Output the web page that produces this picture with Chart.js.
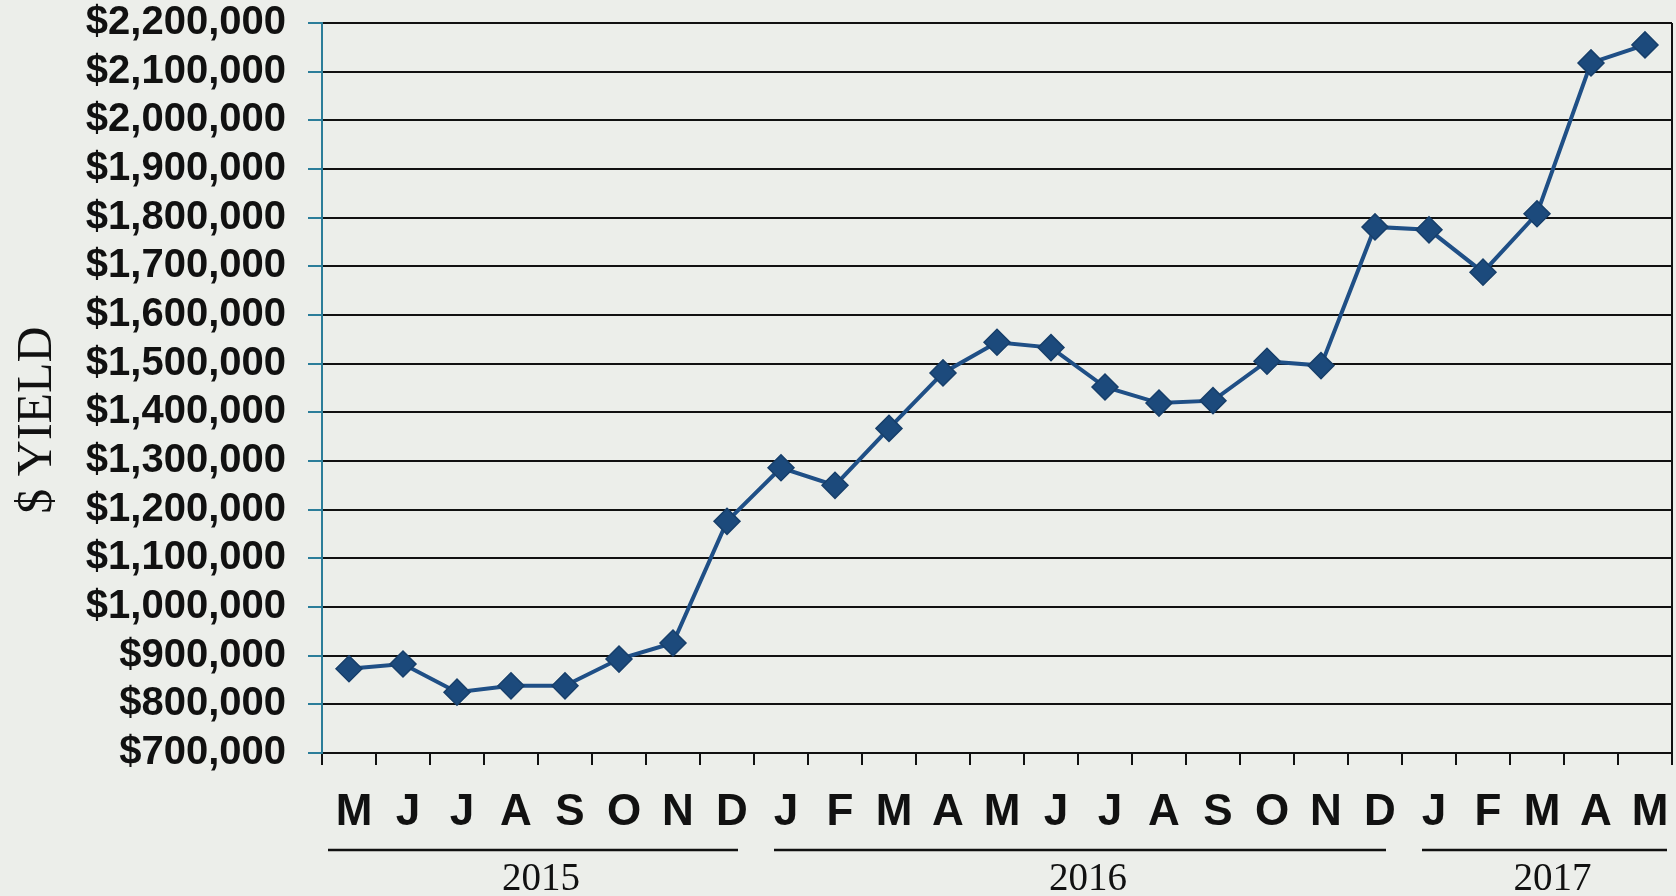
<!DOCTYPE html>
<html>
<head>
<meta charset="utf-8">
<title>$ Yield</title>
<script src="https://cdn.jsdelivr.net/npm/chart.js@4.4.1/dist/chart.umd.min.js"></script>
<style>
  html, body { margin: 0; padding: 0; background: #eceeea; overflow: hidden; }
  canvas { display: block; }
</style>
</head>
<body>
<canvas id="chart" width="1676" height="896"></canvas>
<script>
// month initials, May 2015 .. May 2017
const months = ['M','J','J','A','S','O','N','D','J','F','M','A','M','J','J','A','S','O','N','D','J','F','M','A','M'];
const yieldValues = [873000, 883000, 825000, 838000, 838000, 893000, 926000, 1176000,
  1286000, 1250000, 1367000, 1481000, 1544000, 1533000, 1452000, 1419000, 1424000, 1505000, 1496000, 1781000,
  1775000, 1688000, 1808000, 2118000, 2155000];
// year groups: label, first month index, last month index
const years = ['2015', '2016', '2017'];
const yearStart = [0, 8, 20];
const yearEnd = [7, 19, 24];
const yMin = 700000, yMax = 2200000, yStep = 100000;

const axisTeal = '#2b7d99';
const lineBlue = '#1f4f86';

const paper = {
  id: 'paper',
  beforeDraw(chart) {
    const ctx = chart.ctx;
    ctx.save();
    ctx.fillStyle = '#eceeea';
    ctx.fillRect(0, 0, chart.width, chart.height);
    ctx.restore();
  }
};

const extras = {
  id: 'extras',
  afterDraw(chart) {
    const ctx = chart.ctx, x = chart.scales.x, area = chart.chartArea;
    const half = (x.getPixelForValue(1) - x.getPixelForValue(0)) / 2;
    ctx.save();
    // right border
    ctx.strokeStyle = '#111';
    ctx.lineWidth = 2;
    ctx.beginPath();
    ctx.moveTo(area.right, area.top);
    ctx.lineTo(area.right, area.bottom + 12);
    ctx.stroke();
    // year underlines and labels
    ctx.font = '39px "Liberation Serif", "Times New Roman", serif';
    ctx.fillStyle = '#111';
    ctx.textAlign = 'center';
    ctx.textBaseline = 'middle';
    years.forEach((yr, i) => {
      const x0 = x.getPixelForValue(yearStart[i]) - half + (i ? 20 : 6);
      const x1 = x.getPixelForValue(yearEnd[i]) + half - (i === 2 ? 5 : 16);
      ctx.lineWidth = 2.5;
      ctx.beginPath();
      ctx.moveTo(x0, 850);
      ctx.lineTo(x1, 850);
      ctx.stroke();
      ctx.fillText(yr, (x0 + x1) / 2 + 8, 880);
    });
    // y axis title
    ctx.translate(38, 420);
    ctx.rotate(-Math.PI / 2);
    ctx.font = '50px "Liberation Serif", "Times New Roman", serif';
    ctx.fillText('$ YIELD', 0, 0);
    ctx.restore();
  }
};

new Chart(document.getElementById('chart'), {
  type: 'line',
  data: {
    labels: months,
    datasets: [{
      label: '$ Yield',
      data: yieldValues,
      borderColor: lineBlue,
      borderWidth: 4,
      tension: 0,
      pointStyle: 'rectRot',
      pointRadius: 13,
      pointBorderWidth: 1.5,
      pointBackgroundColor: '#1c4a7c',
      pointBorderColor: '#173f6b'
    }]
  },
  plugins: [paper, extras],
  options: {
    responsive: false,
    animation: false,
    devicePixelRatio: 1,
    layout: { autoPadding: false, padding: { top: 0, right: 4, bottom: 0, left: 0 } },
    plugins: { legend: { display: false }, tooltip: { enabled: false } },
    scales: {
      x: {
        type: 'category',
        offset: true,
        afterFit(scale) { scale.height = 143; },
        grid: { offset: true, drawOnChartArea: false, drawTicks: true, tickLength: 12, tickColor: '#111', lineWidth: 2 },
        border: { display: true, color: '#111', width: 2 },
        ticks: {
          color: '#111',
          padding: 0,
          labelOffset: 5,
          maxRotation: 0,
          autoSkip: false,
          font: { family: '"Liberation Sans", Arial, sans-serif', size: 44, weight: 'bold', lineHeight: 2.18 }
        }
      },
      y: {
        min: yMin,
        max: yMax,
        afterFit(scale) { scale.width = 322; scale.paddingTop = 23; scale.paddingBottom = 0; },
        grid: { color: '#111', lineWidth: 2, tickLength: 14, tickColor: axisTeal },
        border: { display: true, color: axisTeal, width: 2 },
        ticks: {
          stepSize: yStep,
          autoSkip: false,
          color: '#111',
          padding: 22,
          font: { family: '"Liberation Sans", Arial, sans-serif', size: 40, weight: 'bold' },
          callback: v => '$' + v.toLocaleString('en-US')
        }
      }
    }
  }
});
</script>
</body>
</html>
